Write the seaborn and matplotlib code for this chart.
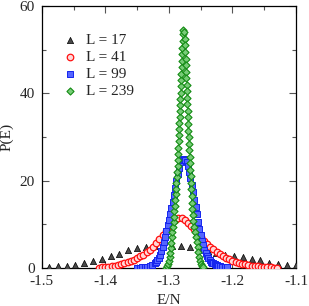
import numpy as np
import pandas as pd
import seaborn as sns
import matplotlib
matplotlib.use("Agg")
import matplotlib.pyplot as plt
from matplotlib.ticker import MultipleLocator

# ---------------- data ----------------
series_labels = ["L = 17", "L = 41", "L = 99", "L = 239"]

E17 = [-1.4885, -1.4747, -1.4608, -1.4470, -1.4331, -1.4193, -1.4054, -1.3916,
       -1.3777, -1.3639, -1.3500, -1.3362, -1.3223, -1.3085, -1.2946, -1.2808,
       -1.2669, -1.2531, -1.2392, -1.2254, -1.2115, -1.1977, -1.1838, -1.1700,
       -1.1561, -1.1423, -1.1284, -1.1146, -1.1007]
P17 = [0.30, 0.40, 0.53, 0.76, 1.15, 1.54, 2.14, 2.83, 3.30, 4.10, 4.70, 4.90,
       5.00, 5.05, 4.95, 4.95, 4.80, 4.40, 3.90, 3.40, 2.90, 2.70, 2.45, 2.15,
       1.80, 1.25, 0.95, 0.73, 0.62]

E41 = [-1.410, -1.405, -1.400, -1.395, -1.390, -1.385, -1.380, -1.375, -1.370,
       -1.365, -1.360, -1.355, -1.350, -1.345, -1.340, -1.335, -1.330, -1.325,
       -1.320, -1.315, -1.310, -1.305, -1.300, -1.295, -1.290, -1.285, -1.280,
       -1.275, -1.270, -1.265, -1.260, -1.255, -1.250, -1.245, -1.240, -1.235,
       -1.230, -1.225, -1.220, -1.215, -1.210, -1.205, -1.200, -1.195, -1.190,
       -1.185, -1.180, -1.175, -1.170, -1.165, -1.160, -1.155, -1.150, -1.145,
       -1.140, -1.135, -1.130]
P41 = [0.10, 0.15, 0.22, 0.30, 0.40, 0.52, 0.70, 0.85, 1.05, 1.35, 1.60, 1.90,
       2.25, 2.65, 3.10, 3.60, 4.20, 4.90, 5.70, 6.60, 7.60, 8.60, 9.60, 10.5,
       11.1, 11.5, 11.4, 10.9, 10.3, 9.60, 8.90, 8.00, 7.10, 6.30, 5.60, 4.90,
       4.30, 3.70, 3.20, 2.75, 2.35, 2.00, 1.70, 1.45, 1.20, 1.00, 0.85, 0.70,
       0.58, 0.48, 0.40, 0.32, 0.26, 0.20, 0.15, 0.11, 0.08]

E99 = [-1.350, -1.346, -1.342, -1.338, -1.334, -1.330, -1.326, -1.322, -1.320,
       -1.318, -1.316, -1.314, -1.312, -1.310, -1.308, -1.306, -1.304, -1.302,
       -1.300, -1.298, -1.296, -1.294, -1.292, -1.290, -1.288, -1.286, -1.284,
       -1.282, -1.280, -1.278, -1.276, -1.274, -1.272, -1.270, -1.268, -1.266,
       -1.264, -1.262, -1.260, -1.258, -1.256, -1.254, -1.252, -1.250, -1.248,
       -1.246, -1.244, -1.242, -1.240, -1.238, -1.236, -1.234, -1.232, -1.230,
       -1.228, -1.226, -1.224, -1.222, -1.220, -1.216, -1.212, -1.208]
P99 = [0.08, 0.12, 0.17, 0.24, 0.35, 0.50, 0.70, 1.10, 1.40, 1.80, 2.30, 3.00,
       3.80, 4.80, 6.00, 7.20, 8.50, 9.80, 11.1, 12.4, 13.8, 15.2, 16.7, 18.3,
       19.9, 21.5, 23.0, 24.2, 24.8, 24.9, 24.9, 24.7, 24.2, 23.3, 22.1, 20.7,
       19.1, 17.4, 15.7, 14.0, 12.3, 10.6, 9.00, 7.60, 6.30, 5.20, 4.20, 3.40,
       2.70, 2.20, 1.80, 1.50, 1.25, 1.05, 0.90, 0.75, 0.63, 0.53, 0.45, 0.33,
       0.24, 0.17]

E239 = [-1.3047, -1.3028, -1.3009, -1.2995, -1.2984, -1.2975, -1.2967, -1.2959,
        -1.2951, -1.2943, -1.2935, -1.2927, -1.2919, -1.2913, -1.2905, -1.2899,
        -1.2893, -1.2886, -1.2880, -1.2874, -1.2869, -1.2863, -1.2858, -1.2853,
        -1.2850, -1.2845, -1.2842, -1.2838, -1.2834, -1.2830, -1.2827, -1.2822,
        -1.2819, -1.2814, -1.2811, -1.2808, -1.2803, -1.2800, -1.2795, -1.2790,
        -1.2787, -1.2782, -1.2778, -1.2770,
        -1.2760, -1.2754, -1.2748, -1.2743, -1.2738, -1.2734, -1.2729, -1.2726,
        -1.2721, -1.2716, -1.2713, -1.2708, -1.2705, -1.2701, -1.2697, -1.2693,
        -1.2690, -1.2685, -1.2680, -1.2675, -1.2671, -1.2664, -1.2658, -1.2653,
        -1.2649, -1.2644, -1.2638, -1.2630, -1.2622, -1.2614, -1.2601, -1.2587,
        -1.2571, -1.2559, -1.2549, -1.2538, -1.2527, -1.2515, -1.2499, -1.2483,
        -1.2464]
P239 = [0.1, 0.4, 0.9, 1.6, 2.5, 3.5, 4.6, 5.8, 7.0, 8.2, 9.4, 10.6, 11.8, 13.0,
        14.3, 15.6, 16.9, 18.2, 19.5, 20.8, 22.1, 23.4, 24.8, 26.2, 27.6, 29.0,
        30.4, 31.8, 33.2, 34.6, 36.0, 37.4, 38.8, 40.2, 41.6, 43.0, 44.5, 46.0,
        47.5, 49.0, 50.5, 52.0, 53.5, 54.5,
        54.0, 52.5, 51.0, 49.5, 48.0, 46.5, 45.0, 43.5, 42.0, 40.5, 39.0, 37.5,
        36.0, 34.5, 33.0, 31.5, 30.0, 28.5, 27.0, 25.5, 24.0, 22.5, 21.0, 19.5,
        18.0, 16.5, 15.0, 13.6, 12.2, 10.8, 9.5, 8.3, 7.2, 6.0, 4.8, 3.7, 2.6,
        1.7, 1.0, 0.5, 0.2]

x_ticks = [-1.5, -1.4, -1.3, -1.2, -1.1]
x_ticklabels = ["-1.5", "-1.4", "-1.3", "-1.2", "-1.1"]
y_ticks = [0, 20, 40, 60]
y_ticklabels = ["0", "20", "40", "60"]

# ---------------- plot ----------------
sns.set_style("ticks")
plt.rcParams["font.family"] = ["Liberation Serif", "DejaVu Serif"]
plt.rcParams["font.size"] = 11

fig = plt.figure(figsize=(3.09, 3.06), dpi=100)
ax = fig.add_axes([0.135, 0.124, 0.823, 0.856])

styles = [
    dict(marker="^", s=20, color="#4a4a4a", edgecolor="black", linewidth=0.5),
    dict(marker="o", s=22, color="#ffd8d8", edgecolor="#ff1010", linewidth=0.9),
    dict(marker="s", s=17, color="#5565ff", edgecolor="#1525ee", linewidth=0.7),
    dict(marker="D", s=13, color="#78cc78", edgecolor="#148c14", linewidth=0.8),
]
for (E, P), lab, st in zip([(E17, P17), (E41, P41), (E99, P99), (E239, P239)],
                           series_labels, styles):
    df = pd.DataFrame({"E": E, "P": P})
    sns.scatterplot(data=df, x="E", y="P", ax=ax, label=lab, zorder=3, **st)

ax.set_xlim(-1.5, -1.1)
ax.set_ylim(0, 60)
ax.set_xticks(x_ticks)
ax.set_xticklabels(x_ticklabels)
ax.set_yticks(y_ticks)
ax.set_yticklabels(y_ticklabels)
ax.xaxis.set_minor_locator(MultipleLocator(0.05))
ax.yaxis.set_minor_locator(MultipleLocator(10))
ax.tick_params(which="both", direction="in", top=True, right=True,
               color="#555555", labelsize=11)
ax.tick_params(axis="x", which="both", pad=5)
ax.tick_params(axis="y", which="both", pad=5)
ax.tick_params(which="major", length=5, width=0.8)
ax.tick_params(which="minor", length=3, width=0.8)
for sp in ax.spines.values():
    sp.set_linewidth(0.9)
    sp.set_color("black")
ax.set_xlabel("E/N", fontsize=11, labelpad=4)
ax.set_ylabel("P(E)", fontsize=11, labelpad=4)

ax.legend(loc="upper left", bbox_to_anchor=(0.082, 0.895), frameon=False,
          borderpad=0, borderaxespad=0, handlelength=1.0, handletextpad=0.55,
          labelspacing=0.2, fontsize=11, markerscale=1.0)

fig.savefig("out.png", dpi=100)
